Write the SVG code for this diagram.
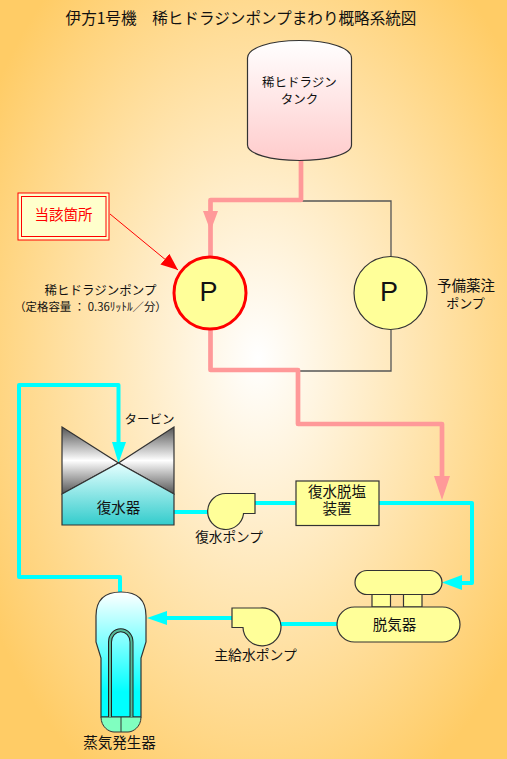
<svg xmlns="http://www.w3.org/2000/svg" width="507" height="759" viewBox="0 0 507 759">
<style>
text{font-family:"Noto Sans CJK JP","Noto Sans",sans-serif;fill:#111;text-anchor:middle}
.s{stroke:#333;stroke-width:1.2}
.y{fill:#FFFF99}
.pk{fill:none;stroke:#FF9999;stroke-width:4.700;stroke-linejoin:round}
.cy{fill:none;stroke:#00FFFF;stroke-width:4;stroke-linejoin:round}
.th{fill:none;stroke:#555;stroke-width:1.300}
.p{font-family:"Liberation Sans",sans-serif;font-size:27px}
</style>
<defs>
<radialGradient id="bg" gradientUnits="userSpaceOnUse" cx="0" cy="0" r="1" gradientTransform="translate(258 358) scale(315 490)">
<stop offset="0" stop-color="#FFFFFF"/><stop offset="1" stop-color="#FFCC66"/>
</radialGradient>
<linearGradient id="tank" x1="0" y1="0" x2="0" y2="1"><stop offset="0" stop-color="#FFFFFF"/><stop offset="1" stop-color="#FFCCCC"/></linearGradient>
<linearGradient id="gray" x1="0" y1="0" x2="0" y2="1"><stop offset="0" stop-color="#555"/><stop offset=".5" stop-color="#FFF"/><stop offset="1" stop-color="#555"/></linearGradient>
<linearGradient id="cond" x1="0" y1="0" x2="0" y2="1"><stop offset="0" stop-color="#E6FFFF"/><stop offset="1" stop-color="#33CCCC"/></linearGradient>
<linearGradient id="sg" x1="0" y1="0" x2="0" y2="1"><stop offset="0" stop-color="#FFFFFF"/><stop offset=".8" stop-color="#00FFFF"/><stop offset="1" stop-color="#00FFFF"/></linearGradient>
<marker id="redhead" markerUnits="userSpaceOnUse" markerWidth="18" markerHeight="16" refX="17" refY="7" orient="auto"><path d="M0 0L17 7L0 14Z" fill="#FF0000"/></marker>
</defs>
<rect id="background" width="507" height="759" fill="url(#bg)"/>
<g id="connectors">
<path class="th" d="M302 201H391V257M391 330V371H298"/>
<path class="pk" d="M301 160V200H210.500V257"/>
<path class="pk" d="M210.500 330V370H298V424H442V480"/>
<path d="M203 211H218L210.500 231Z" fill="#FF9999"/>
<path d="M434 476H450L442 500Z" fill="#FF9999"/>
<path class="cy" d="M120 592V577H19V385H118.500V445"/>
<path d="M112 442H126L118.500 463Z" fill="#00FFFF"/>
<path class="cy" d="M174 512H226"/>
<path class="cy" d="M255 503H296"/>
<path class="cy" d="M379 503H472V583H458"/>
<path d="M462 575V590L442 582.500Z" fill="#00FFFF"/>
<path class="cy" d="M337 624H266"/>
<path class="cy" d="M232 618H165"/>
<path d="M167 611V625L147 618Z" fill="#00FFFF"/>
<path d="M110 214L178 270" fill="none" stroke="#FF0000" stroke-width="1" marker-end="url(#redhead)"/>
</g>
<text id="title" x="241" y="24" style="font-size:15.600px;font-weight:400">伊方1号機　稀ヒドラジンポンプまわり概略系統図</text>
<g id="tank-node">
<path class="s" fill="url(#tank)" d="M247.500 58C247.500 48 270 40.500 299.500 40.500S351.500 48 351.500 58V145C351.500 154 328 160.500 299.500 160.500S247.500 154 247.500 145Z"/>
<text x="299.500" y="87" font-size="12.500">稀ヒドラジン</text>
<text x="299.500" y="104" font-size="12.500">タンク</text>
</g>
<g id="callout">
<rect x="18" y="193" width="91" height="47" fill="#FFFFCC" stroke="#FF0000" stroke-width="1"/>
<rect x="21.500" y="196.500" width="84.500" height="40" fill="#FFFFCC" stroke="#FF0000" stroke-width="1"/>
<text x="63.500" y="220" font-size="14.500" style="fill:#FF0000">当該箇所</text>
</g>
<g id="pump-main">
<circle cx="210" cy="293" r="36" class="y" stroke="#FF0000" stroke-width="3"/>
<text class="p" x="208.500" y="301">P</text>
<text x="100.500" y="295" font-size="12.500">稀ヒドラジンポンプ</text>
<text x="90.500" y="311" font-size="11.400">（定格容量 ： 0.36ﾘｯﾄﾙ／分）</text>
</g>
<g id="pump-standby">
<circle cx="390.500" cy="293" r="36.500" class="y s"/>
<text class="p" x="389" y="301">P</text>
<text x="466" y="291" font-size="14.500">予備薬注</text>
<text x="465.500" y="308" font-size="13">ポンプ</text>
</g>
<g id="turbine">
<path class="s" fill="url(#gray)" d="M62 427L118.500 463L62 494Z"/>
<path class="s" fill="url(#gray)" d="M174 427L118.500 463L174 494Z"/>
<text x="149.500" y="424" font-size="12.500">タービン</text>
</g>
<g id="condenser">
<path class="s" fill="url(#cond)" d="M62 494L118.500 463L174 494V525H62Z"/>
<text x="118.500" y="513" font-size="14.500">復水器</text>
</g>
<g id="condensate-pump">
<path class="s y" d="M255 493.500H226A18 18 0 1 0 243.500 514V513.500H255Z"/>
<text x="229" y="542" font-size="13.600">復水ポンプ</text>
</g>
<g id="demineralizer">
<rect x="296" y="481" width="83" height="44.500" class="y s"/>
<text x="337" y="497" font-size="14.500">復水脱塩</text>
<text x="337" y="514" font-size="14.500">装置</text>
</g>
<g id="deaerator">
<rect x="372" y="594" width="18.500" height="13" class="y s"/>
<rect x="403.500" y="594" width="18.500" height="13" class="y s"/>
<rect x="355" y="570.500" width="87" height="24" rx="12" class="y s"/>
<rect x="337" y="607" width="123" height="35" rx="17.500" class="y s"/>
<text x="394.500" y="630" font-size="14.500">脱気器</text>
</g>
<g id="feed-pump">
<path class="s y" d="M232 608H260A19 19 0 1 1 243 627.500H232Z"/>
<text x="255.500" y="660" font-size="13.800">主給水ポンプ</text>
</g>
<g id="steam-generator">
<path class="s" fill="url(#sg)" d="M96 616C96 600 105 592 121 592S146 600 146 616V642L141 658V717H101V658L96 642Z"/>
<path fill="#80FFC0" stroke="#333" stroke-width="1" d="M101 717H141C141 727 133 732 128 732H114C109 732 101 727 101 717Z"/>
<path d="M121 717V732" stroke="#333" stroke-width="1"/>
<path d="M110 717V642A10.500 11.500 0 0 1 131.500 642V717" fill="none" stroke="#222" stroke-width="4"/>
<path d="M110 717V642A10.500 11.500 0 0 1 131.500 642V717" fill="none" stroke="#55BB99" stroke-width="2"/>
<text x="119.500" y="748" font-size="14.500">蒸気発生器</text>
</g>
</svg>
